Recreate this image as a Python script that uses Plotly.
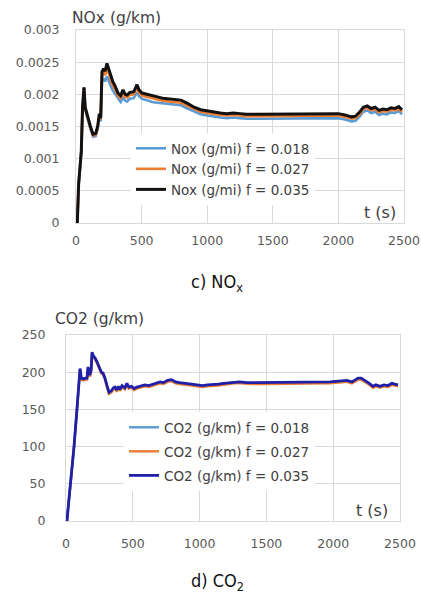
import plotly.graph_objects as go

# ---------------- data ----------------
t_nox = [0, 10, 20, 30, 40, 50, 61, 70, 80, 95, 110, 130, 150, 165, 178, 188, 198, 210, 222, 236,
         250, 265, 280, 300, 320, 340, 358, 375, 390, 410, 440, 465, 480, 503, 540, 580, 620, 660, 700, 750,
         800, 850, 900, 950, 1000, 1050, 1100, 1150, 1200, 1250, 1300, 1400, 1500, 1600, 1700, 1800, 1900, 2000,
         2050, 2100, 2130, 2160, 2190, 2220, 2250, 2280, 2310, 2340, 2370, 2400, 2430, 2460, 2485]

nox_035 = [0, 0, 0.0006, 0.0009, 0.0011, 0.0018, 0.00211, 0.0018, 0.00172, 0.0016, 0.0015, 0.00138, 0.00139,
           0.0015, 0.0017, 0.00163, 0.00235, 0.0024, 0.00236, 0.00248, 0.0024, 0.00228, 0.0022, 0.00212, 0.00202,
           0.00198, 0.00207, 0.002, 0.00199, 0.00203, 0.00204, 0.00215, 0.00207, 0.00202, 0.002, 0.00197, 0.00196,
           0.00194, 0.00193, 0.00192, 0.00191, 0.00186, 0.0018, 0.00176, 0.00174, 0.00172, 0.00171, 0.0017, 0.00171,
           0.0017, 0.00169, 0.00169, 0.00169, 0.00169, 0.00169, 0.00169, 0.00169, 0.0017, 0.00168, 0.00165, 0.00166,
           0.00172, 0.0018, 0.00182, 0.00178, 0.0018, 0.00175, 0.00177, 0.00176, 0.00179, 0.00178, 0.00181, 0.00176]

nox_027 = [0, 0, 0.0006, 0.0009, 0.0011, 0.0018, 0.0021, 0.00178, 0.0017, 0.00158, 0.00148, 0.00136, 0.00137,
           0.00148, 0.00168, 0.00161, 0.00228, 0.00234, 0.0023, 0.0024, 0.00233, 0.00222, 0.00214, 0.00207, 0.00198,
           0.00194, 0.00202, 0.00196, 0.00195, 0.00199, 0.002, 0.0021, 0.00203, 0.00198, 0.00196, 0.00193, 0.00192,
           0.0019, 0.00189, 0.00188, 0.00187, 0.00182, 0.00177, 0.00173, 0.00171, 0.00169, 0.00168, 0.00167, 0.00168,
           0.00167, 0.00166, 0.00166, 0.00166, 0.00166, 0.00166, 0.00166, 0.00166, 0.00167, 0.00165, 0.00162, 0.00163,
           0.00169, 0.00177, 0.00179, 0.00175, 0.00177, 0.00172, 0.00174, 0.00173, 0.00176, 0.00175, 0.00178, 0.00173]

nox_018 = [0, 0, 0.0006, 0.0009, 0.0011, 0.0018, 0.0021, 0.00176, 0.00168, 0.00156, 0.00146, 0.00134, 0.00135,
           0.00146, 0.00165, 0.00158, 0.0022, 0.00225, 0.0022, 0.00228, 0.00222, 0.00213, 0.00206, 0.002, 0.00192,
           0.00188, 0.00195, 0.0019, 0.00189, 0.00193, 0.00194, 0.00203, 0.00197, 0.00193, 0.00191, 0.00188, 0.00187,
           0.00186, 0.00185, 0.00184, 0.00183, 0.00178, 0.00173, 0.00169, 0.00167, 0.00165, 0.00164, 0.00163, 0.00164,
           0.00163, 0.00162, 0.00162, 0.00162, 0.00162, 0.00162, 0.00162, 0.00162, 0.00163, 0.00161, 0.00158, 0.00159,
           0.00165, 0.00173, 0.00175, 0.00171, 0.00173, 0.00168, 0.0017, 0.00169, 0.00172, 0.00171, 0.00174, 0.00169]

t_co2 = [0, 7, 20, 37, 60, 82, 95, 105, 115, 130, 145, 157, 165, 178, 188, 195, 205, 218, 232, 250,
         265, 277, 292, 307, 322, 340, 355, 367, 380, 392, 404, 420, 440, 456, 470, 490, 510, 531, 560, 590,
         620, 650, 680, 704, 730, 760, 790, 820, 850, 880, 910, 940, 980, 1020, 1060, 1100, 1140, 1180, 1220, 1260,
         1300, 1350, 1400, 1500, 1600, 1700, 1800, 1900, 1976, 2040, 2103, 2140, 2186, 2210, 2240, 2270, 2298, 2320,
         2350, 2380, 2410, 2440, 2460, 2485]

co2_035 = [0, 0, 25, 55, 100, 150, 185, 205, 192, 191, 192, 192, 207, 196, 203, 227, 222, 219, 214, 207,
           200, 199, 192, 182, 173, 175, 179, 180, 176, 181, 177, 182, 179, 185, 180, 181, 178, 180, 181, 183,
           182, 184, 185, 187, 186, 189, 190, 187, 186, 185, 184, 184, 183, 182, 183, 184, 184, 185, 186, 187,
           187, 186, 186, 186, 186, 186, 186, 186, 187, 188, 189, 187, 192, 192, 189, 185, 181, 183,
           181, 183, 182, 185, 184, 183]

co2_027 = [0, 0, 25, 55, 100, 150, 184, 203, 190, 189, 190, 190, 205, 194, 201, 224, 220, 217, 212, 205,
           198, 197, 190, 180, 171, 173, 177, 178, 174, 179, 175, 180, 177, 183, 178, 179, 176, 178, 179, 181,
           180, 182, 183, 185, 184, 187, 188, 185, 184, 183, 182, 182, 181, 180, 181, 182, 182, 183, 184, 185,
           185, 184, 184, 184, 184, 184, 184, 184, 185, 186, 187, 185, 190, 190, 187, 183, 179, 181,
           179, 181, 180, 183, 182, 181]

co2_018 = [0, 0, 25, 55, 100, 150, 184, 204, 191, 190, 191, 191, 206, 195, 202, 225, 221, 218, 213, 206,
           199, 198, 191, 181, 172, 174, 178, 179, 175, 180, 176, 181, 178, 184, 179, 180, 177, 179, 180, 182,
           181, 183, 184, 186, 185, 188, 189, 186, 185, 184, 183, 183, 182, 181, 182, 183, 183, 184, 185, 186,
           186, 185, 185, 185, 185, 185, 185, 185, 186, 187, 188, 186, 191, 191, 188, 184, 180, 182,
           180, 182, 181, 184, 183, 182]

nox_labels = ["Nox (g/mi) f = 0.018", "Nox (g/mi) f = 0.027", "Nox (g/mi) f = 0.035"]
co2_labels = ["CO2 (g/km) f = 0.018", "CO2 (g/km) f = 0.027", "CO2 (g/km) f = 0.035"]
x_ticks = [0, 500, 1000, 1500, 2000, 2500]
nox_ticks = [0, 0.0005, 0.001, 0.0015, 0.002, 0.0025, 0.003]
nox_ticktext = ["0", "0.0005", "0.001", "0.0015", "0.002", "0.0025", "0.003"]
co2_ticks = [0, 50, 100, 150, 200, 250]

W, H = 421, 596
FONT = "DejaVu Sans, Open Sans, sans-serif"
TICKC = "#595959"
TXTC = "#404040"
GRID = "#d9d9d9"

fig = go.Figure()

nox_colors = ["#5b9bd5", "#ed7d31", "#111111"]
nox_widths = [2.6, 2.6, 3.0]
for name, ys, c, w, g in zip(nox_labels, [nox_018, nox_027, nox_035], nox_colors, nox_widths, ["a", "b", "c"]):
    fig.add_trace(go.Scatter(x=t_nox, y=ys, mode="lines", name=name, line=dict(color=c, width=w),
                             xaxis="x", yaxis="y", legend="legend", legendgroup=g))

co2_colors = ["#5b9bd5", "#ed7d31", "#1f1fa8"]
co2_widths = [2.4, 2.4, 2.8]
for name, ys, c, w, g in zip(co2_labels, [co2_018, co2_027, co2_035], co2_colors, co2_widths, ["d", "e", "f"]):
    fig.add_trace(go.Scatter(x=t_co2, y=ys, mode="lines", name=name, line=dict(color=c, width=w),
                             xaxis="x2", yaxis="y2", legend="legend2", legendgroup=g))

def px_x(p):
    return p / W

def px_y(p):
    return 1 - p / H

axis_common = dict(showgrid=True, gridcolor=GRID, gridwidth=1, zeroline=False, showline=True, mirror=True,
                   linecolor=GRID, linewidth=1, tickfont=dict(family=FONT, size=12.5, color=TICKC),
                   ticks="outside", tickcolor="rgba(0,0,0,0)", fixedrange=True)

fig.update_layout(
    width=W, height=H, template="none",
    paper_bgcolor="white", plot_bgcolor="white",
    margin=dict(l=0, r=0, t=0, b=0),
    font=dict(family=FONT, color=TICKC),
    xaxis=dict(domain=[px_x(76), px_x(404)], range=[0, 2500], tickvals=x_ticks, anchor="y",
               ticklen=6, **axis_common),
    yaxis=dict(domain=[px_y(223), px_y(30)], range=[0, 0.003], tickvals=nox_ticks, ticktext=nox_ticktext,
               anchor="x", ticklen=13, **axis_common),
    xaxis2=dict(domain=[px_x(66), px_x(400)], range=[0, 2500], tickvals=x_ticks, anchor="y2",
                ticklen=11, **axis_common),
    yaxis2=dict(domain=[px_y(521), px_y(335)], range=[0, 250], tickvals=co2_ticks, anchor="x2",
                ticklen=17, **axis_common),
    legend=dict(x=px_x(131), y=px_y(133), xanchor="left", yanchor="top", bgcolor="white",
                font=dict(family=FONT, size=13.5, color=TXTC), traceorder="grouped", tracegroupgap=0,
                borderwidth=0),
    legend2=dict(x=px_x(124), y=px_y(412), xanchor="left", yanchor="top", bgcolor="white",
                 font=dict(family=FONT, size=13.5, color=TXTC), traceorder="grouped", tracegroupgap=3.5,
                 borderwidth=0),
    showlegend=True,
)

annots = [
    dict(text="NOx (g/km)", x=px_x(117), y=px_y(18), size=15.5),
    dict(text="CO2 (g/km)", x=px_x(99), y=px_y(319), size=15.5),
    dict(text="t (s)", x=px_x(380), y=px_y(212), size=16),
    dict(text="t (s)", x=px_x(372), y=px_y(510), size=16),
]
for a in annots:
    fig.add_annotation(text=a["text"], x=a["x"], y=a["y"], xref="paper", yref="paper",
                       xanchor="center", yanchor="middle", showarrow=False,
                       font=dict(family=FONT, size=a["size"], color=TXTC))

CAP_FONT = "DejaVu Sans Condensed, Liberation Sans Narrow, Roboto, sans-serif"
fig.add_annotation(text="c) NO<sub>x</sub>", x=px_x(217), y=px_y(283), xref="paper", yref="paper",
                   showarrow=False, xanchor="center", yanchor="middle",
                   font=dict(family=CAP_FONT, size=18, color="#111111"))
fig.add_annotation(text="d) CO<sub>2</sub>", x=px_x(217), y=px_y(582), xref="paper", yref="paper",
                   showarrow=False, xanchor="center", yanchor="middle",
                   font=dict(family=CAP_FONT, size=18, color="#111111"))

fig.write_html("out.html", config={"displayModeBar": False},
               post_script="document.body.style.margin='0';document.body.style.overflow='hidden';")
